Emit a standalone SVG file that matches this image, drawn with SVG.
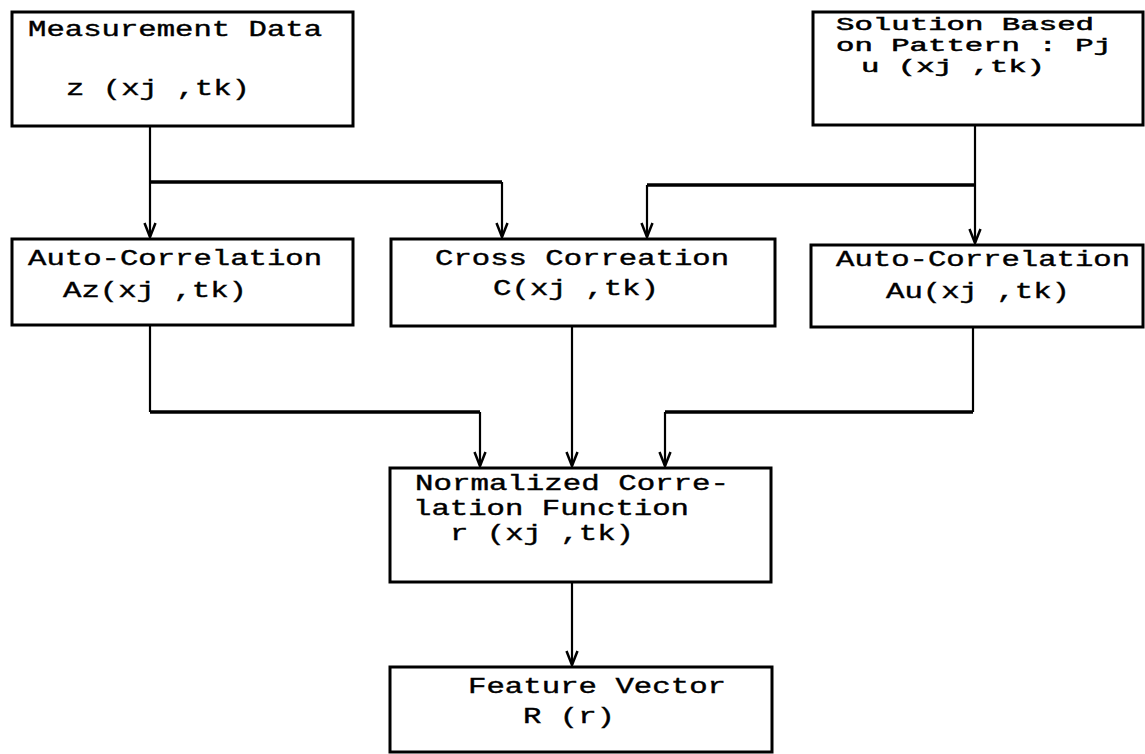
<svg xmlns="http://www.w3.org/2000/svg" width="1145" height="754" viewBox="0 0 1145 754">
  <style>
    .box { fill: #fff; stroke: #000; stroke-width: 3; }
    .lbl { font-family: "Liberation Mono", "Courier New", monospace; font-size: 22px; fill: #000; stroke: #000; stroke-width: 0.4; }
    .tight { font-size: 18px; stroke-width: 0.5; }
    .wire { fill: none; stroke: #000; stroke-width: 2.2; }
    .bus { fill: none; stroke: #000; stroke-width: 3.5; }
  </style>
  <defs>
    <marker id="arrow" markerUnits="userSpaceOnUse" markerWidth="20" markerHeight="20" refX="0" refY="0" viewBox="-17 -9 20 18" orient="auto">
      <path d="M-14,-5.5 L0,0 L-14,5.5" fill="none" stroke="#000" stroke-width="2.5"/>
    </marker>
  </defs>
  <rect width="1145" height="754" fill="#fff"/>

  <!-- connectors -->
  <g id="connectors">
    <path class="wire" d="M150,126 V237" marker-end="url(#arrow)"/>
    <path class="bus" d="M150,182 H502"/>
    <path class="wire" d="M502,182 V237" marker-end="url(#arrow)"/>
    <path class="wire" d="M975,125 V243" marker-end="url(#arrow)"/>
    <path class="bus" d="M975,185 H647"/>
    <path class="wire" d="M647,185 V237" marker-end="url(#arrow)"/>
    <path class="wire" d="M150,325 V412"/>
    <path class="bus" d="M150,412 H480"/>
    <path class="wire" d="M480,412 V466" marker-end="url(#arrow)"/>
    <path class="wire" d="M572,326 V466" marker-end="url(#arrow)"/>
    <path class="wire" d="M973,327 V412"/>
    <path class="bus" d="M973,412 H665"/>
    <path class="wire" d="M665,412 V466" marker-end="url(#arrow)"/>
    <path class="wire" d="M572,582 V665" marker-end="url(#arrow)"/>
  </g>

  <g id="measurement">
    <rect class="box" x="12" y="12" width="341" height="114"/>
    <text class="lbl" x="28" y="36" textLength="294" lengthAdjust="spacingAndGlyphs">Measurement Data</text>
    <text class="lbl" x="66" y="95" textLength="184" lengthAdjust="spacingAndGlyphs">z (xj ,tk)</text>
  </g>

  <g id="solution">
    <rect class="box" x="813" y="12" width="330" height="113"/>
    <text class="lbl tight" x="836" y="30" textLength="258" lengthAdjust="spacingAndGlyphs">Solution Based</text>
    <text class="lbl tight" x="836" y="51" textLength="276" lengthAdjust="spacingAndGlyphs">on Pattern : Pj</text>
    <text class="lbl tight" x="861" y="72" textLength="184" lengthAdjust="spacingAndGlyphs">u (xj ,tk)</text>
  </g>

  <g id="autocorr-z">
    <rect class="box" x="12" y="239" width="341" height="86"/>
    <text class="lbl" x="28" y="265" textLength="294" lengthAdjust="spacingAndGlyphs">Auto-Correlation</text>
    <text class="lbl" x="63" y="297" textLength="184" lengthAdjust="spacingAndGlyphs">Az(xj ,tk)</text>
  </g>

  <g id="crosscorr">
    <rect class="box" x="391" y="239" width="384" height="87"/>
    <text class="lbl" x="435" y="265" textLength="294" lengthAdjust="spacingAndGlyphs">Cross Correation</text>
    <text class="lbl" x="493" y="295" textLength="166" lengthAdjust="spacingAndGlyphs">C(xj ,tk)</text>
  </g>

  <g id="autocorr-u">
    <rect class="box" x="811" y="245" width="332" height="82"/>
    <text class="lbl" x="836" y="266" textLength="294" lengthAdjust="spacingAndGlyphs">Auto-Correlation</text>
    <text class="lbl" x="886" y="298" textLength="184" lengthAdjust="spacingAndGlyphs">Au(xj ,tk)</text>
  </g>

  <g id="normalized">
    <rect class="box" x="390" y="468" width="381" height="114"/>
    <text class="lbl" x="415" y="490" textLength="314" lengthAdjust="spacingAndGlyphs">Normalized Corre-</text>
    <text class="lbl" x="413" y="515" textLength="276" lengthAdjust="spacingAndGlyphs">lation Function</text>
    <text class="lbl" x="450" y="540" textLength="184" lengthAdjust="spacingAndGlyphs">r (xj ,tk)</text>
  </g>

  <g id="feature">
    <rect class="box" x="390" y="667" width="382" height="85"/>
    <text class="lbl" x="468" y="693" textLength="258" lengthAdjust="spacingAndGlyphs">Feature Vector</text>
    <text class="lbl" x="523" y="723" textLength="92" lengthAdjust="spacingAndGlyphs">R (r)</text>
  </g>
</svg>
